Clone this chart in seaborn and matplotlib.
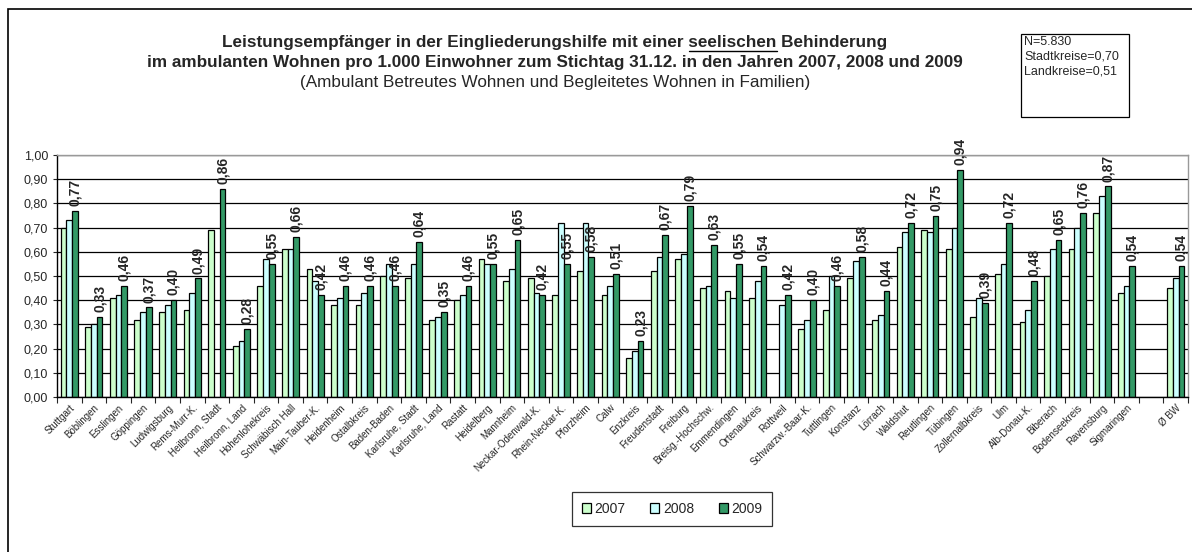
import numpy as np
import pandas as pd
import seaborn as sns
import matplotlib.pyplot as plt
from matplotlib.patches import Rectangle
from matplotlib.lines import Line2D
from matplotlib.ticker import FuncFormatter

sns.set_style("white")
plt.rcParams["font.family"] = ["Liberation Sans", "DejaVu Sans"]

nan = np.nan

# Kreise in Baden-Wuerttemberg (leerer Eintrag = Luecke vor dem Landesschnitt)
kreise = ["Stuttgart", "Böblingen", "Esslingen", "Göppingen", "Ludwigsburg",
          "Rems-Murr-K.", "Heilbronn, Stadt", "Heilbronn, Land", "Hohenlohekreis",
          "Schwäbisch Hall", "Main-Tauber-K.", "Heidenheim", "Ostalbkreis",
          "Baden-Baden", "Karlsruhe, Stadt", "Karlsruhe, Land", "Rastatt",
          "Heidelberg", "Mannheim", "Neckar-Odenwald-K.", "Rhein-Neckar-K.",
          "Pforzheim", "Calw", "Enzkreis", "Freudenstadt", "Freiburg",
          "Breisg.-Hochschw.", "Emmendingen", "Ortenaukreis", "Rottweil",
          "Schwarzw.-Baar-K.", "Tuttlingen", "Konstanz", "Lörrach", "Waldshut",
          "Reutlingen", "Tübingen", "Zollernalbkreis", "Ulm", "Alb-Donau-K.",
          "Biberach", "Bodenseekreis", "Ravensburg", "Sigmaringen", "", "Ø BW"]

jahre = ["2007", "2008", "2009"]

w2007 = [0.70, 0.29, 0.41, 0.32, 0.35, 0.36, 0.69, 0.21, 0.46, 0.61,
         0.53, 0.38, 0.38, 0.50, 0.49, 0.32, 0.40, 0.57, 0.48, 0.49,
         0.42, 0.52, 0.42, 0.16, 0.52, 0.57, 0.45, 0.44, 0.41, nan,
         0.28, 0.36, 0.49, 0.32, 0.62, 0.69, 0.61, 0.33, 0.51, 0.31,
         0.50, 0.61, 0.76, 0.43, nan, 0.45]
w2008 = [0.73, 0.30, 0.42, 0.35, 0.38, 0.43, nan, 0.23, 0.57, 0.61,
         0.48, 0.41, 0.43, 0.55, 0.55, 0.33, 0.42, 0.55, 0.53, 0.43,
         0.72, 0.72, 0.46, 0.19, 0.58, 0.59, 0.46, 0.41, 0.48, 0.38,
         0.32, 0.50, 0.56, 0.34, 0.68, 0.68, 0.70, 0.41, 0.55, 0.36,
         0.61, 0.70, 0.83, 0.46, nan, 0.49]
w2009 = [0.77, 0.33, 0.46, 0.37, 0.40, 0.49, 0.86, 0.28, 0.55, 0.66,
         0.42, 0.46, 0.46, 0.46, 0.64, 0.35, 0.46, 0.55, 0.65, 0.42,
         0.55, 0.58, 0.51, 0.23, 0.67, 0.79, 0.63, 0.55, 0.54, 0.42,
         0.40, 0.46, 0.58, 0.44, 0.72, 0.75, 0.94, 0.39, 0.72, 0.48,
         0.65, 0.76, 0.87, 0.54, nan, 0.54]

farben = ["#CCFFCC", "#CCFFFF", "#339966"]

df = pd.DataFrame({
    "Kreis": kreise * 3,
    "Jahr": [j for j in jahre for _ in kreise],
    "Wert": w2007 + w2008 + w2009,
})

W, H = 1192, 552
fig = plt.figure(figsize=(W / 100, H / 100), dpi=100)
ax = fig.add_axes([57 / W, 1 - 397 / H, (1188 - 57) / W, (397 - 155) / H])

sns.barplot(data=df, x="Kreis", y="Wert", hue="Jahr", order=kreise,
            hue_order=jahre, palette=farben, width=0.7, errorbar=None,
            edgecolor="black", linewidth=0.9, saturation=1, ax=ax)

# Werte 2009 ueber den Balken
c2009 = ax.containers[2]
ax.bar_label(c2009, labels=[f"{v:.2f}".replace(".", ",") for v in c2009.datavalues],
             rotation=90, padding=3.5, fontsize=10, fontweight="bold")

ax.set_ylim(0, 1)
ax.set_xlim(-0.5, len(kreise) - 0.5)
ax.set_yticks(np.arange(0, 1.01, 0.1))
ax.yaxis.set_major_formatter(FuncFormatter(lambda v, p: f"{v:.2f}".replace(".", ",")))
ax.yaxis.grid(True, color="black", linewidth=0.9)
ax.set_axisbelow(True)
ax.set_xlabel("")
ax.set_ylabel("")
ax.tick_params(axis="y", labelsize=9, length=3, left=True, width=0.8)
ax.set_xticks(range(len(kreise)))
ax.set_xticklabels(kreise, rotation=45, ha="right", rotation_mode="anchor", fontsize=7)
ax.tick_params(axis="x", which="major", length=0, pad=4)
ax.set_xticks(np.arange(-0.5, len(kreise), 1), minor=True)
ax.tick_params(axis="x", which="minor", length=4, bottom=True, width=0.8)
for s in ["left", "bottom"]:
    ax.spines[s].set_color("black")
    ax.spines[s].set_linewidth(1)
for s in ["top", "right"]:
    ax.spines[s].set_color("#999999")
    ax.spines[s].set_linewidth(1)

handles, labels = ax.get_legend_handles_labels()
ax.get_legend().remove()
leg = fig.legend(handles, labels, loc="center", bbox_to_anchor=(672 / W, 1 - 509 / H),
                 ncol=3, frameon=True, fancybox=False, edgecolor="black",
                 fontsize=10, handlelength=0.65, handleheight=0.65, handletextpad=0.25,
                 columnspacing=1.8, borderpad=0.7)
leg.get_frame().set_linewidth(0.9)

# aeusserer Rahmen
fig.patches.append(Rectangle((8 / W, -0.1), 1.2, 1.1 - 9 / H, transform=fig.transFigure,
                             fill=False, edgecolor="black", linewidth=1.2))

# Titel
cx = 555 / W
fs = 12.3
zeile1 = "Leistungsempfänger in der Eingliederungshilfe mit einer seelischen Behinderung"
t1 = fig.text(cx, 1 - 42 / H, zeile1, ha="center", va="center", fontsize=fs, fontweight="bold")
fig.text(cx, 1 - 62 / H,
         "im ambulanten Wohnen pro 1.000 Einwohner zum Stichtag 31.12. in den Jahren 2007, 2008 und 2009",
         ha="center", va="center", fontsize=fs, fontweight="bold")
fig.text(cx, 1 - 83 / H, "(Ambulant Betreutes Wohnen und Begleitetes Wohnen in Familien)",
         ha="center", va="center", fontsize=fs)

# Unterstreichung von "seelischen"
r = fig.canvas.get_renderer()
bb = t1.get_window_extent(r)
teil = fig.text(0, 0, zeile1.split(" Behinderung")[0], fontsize=fs, fontweight="bold")
wort = fig.text(0, 0, "seelischen", fontsize=fs, fontweight="bold")
x_end = bb.x0 + teil.get_window_extent(r).width
x_start = x_end - wort.get_window_extent(r).width
teil.remove()
wort.remove()
y_line = bb.y0 - 1
fig.add_artist(Line2D([x_start / W, x_end / W], [y_line / H, y_line / H],
                      transform=fig.transFigure, color="black", linewidth=1))

# Infobox
fig.patches.append(Rectangle((1021 / W, 1 - 117 / H), 108 / W, 83 / H, transform=fig.transFigure,
                             fill=False, edgecolor="black", linewidth=0.9))
fig.text(1024 / W, 1 - 36 / H, "N=5.830\nStadtkreise=0,70\nLandkreise=0,51",
         ha="left", va="top", fontsize=9, linespacing=1.3)

fig.savefig("out.png", dpi=100)
